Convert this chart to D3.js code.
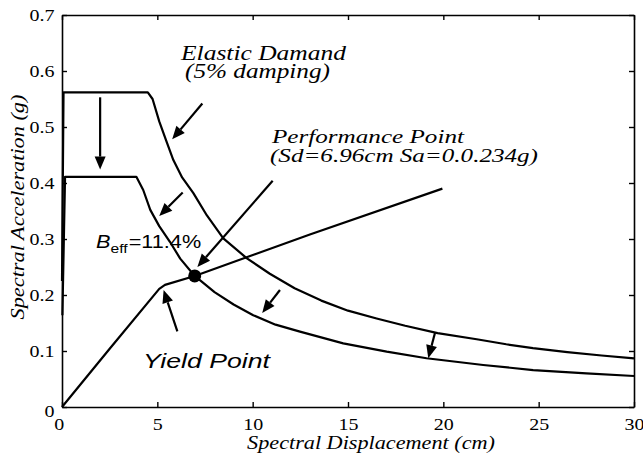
<!DOCTYPE html>
<html>
<head>
<meta charset="utf-8">
<script src="https://cdn.jsdelivr.net/npm/d3@7"></script>
<style>
  html, body { margin: 0; padding: 0; background: #fff; }
  svg { display: block; }
</style>
</head>
<body>
<svg id="chart" width="643" height="455"></svg>
<script>
// Elastic demand spectrum (5% damping), ADRS format: Sd in cm, Sa in g
const elasticSd = [0.0, 0.08, 4.5, 4.75, 5.1, 5.45, 5.84, 6.3, 6.89, 7.6, 8.46, 9.68, 10.9, 12.2, 13.6, 15.0, 16.5, 18.0, 19.7, 21.75, 23.3, 24.7, 26.5, 28.3, 30];
const elasticSa = [0.225, 0.562, 0.562, 0.550, 0.510, 0.477, 0.441, 0.410, 0.382, 0.342, 0.301, 0.266, 0.238, 0.212, 0.190, 0.172, 0.158, 0.145, 0.132, 0.121, 0.112, 0.105, 0.098, 0.092, 0.087];

// Reduced demand spectrum (effective damping 11.4%)
const reducedSd = [0.02, 0.16, 3.9, 4.26, 4.63, 5.1, 5.66, 6.2, 6.96, 8.0, 9.0, 10.03, 11.2, 12.48, 14.75, 17.03, 19.12, 22.09, 24.71, 27.5, 30];
const reducedSa = [0.164, 0.411, 0.411, 0.3875, 0.352, 0.323, 0.295, 0.265, 0.234, 0.205, 0.183, 0.164, 0.147, 0.1345, 0.1137, 0.0988, 0.087, 0.075, 0.066, 0.060, 0.0554];

// Capacity spectrum
const capacitySd = [0, 2.5, 5.1, 5.4, 6.96, 13.0, 19.95];
const capacitySa = [0, 0.104, 0.211, 0.218, 0.234, 0.308, 0.390];

// Performance point
const perfSd = 6.96;
const perfSa = 0.234;

// Annotation arrows: tail -> tip, in data units
const arrowTailSd = [2.0, 7.36, 6.33, 11.05, 6.05, 11.43, 19.56];
const arrowTailSa = [0.553, 0.542, 0.383, 0.404, 0.135, 0.209, 0.132];
const arrowTipSd  = [2.0, 5.78, 5.10, 7.10, 5.33, 10.50, 19.21];
const arrowTipSa  = [0.424, 0.478, 0.341, 0.250, 0.209, 0.168, 0.087];

// Axis ticks
const xTicks = [0, 5, 10, 15, 20, 25, 30];
const yTicks = [0, 0.1, 0.2, 0.3, 0.4, 0.5, 0.6, 0.7];
const xTickLabels = ["0", "5", "10", "15", "20", "25", "30"];
const yTickLabels = ["0", "0.1", "0.2", "0.3", "0.4", "0.5", "0.6", "0.7"];

const svg = d3.select("#chart");
const plotLeft = 62, plotRight = 634, plotTop = 15, plotBottom = 407;

const x = d3.scaleLinear().domain([0, 30]).range([plotLeft, plotRight]);
const y = d3.scaleLinear().domain([0, 0.7]).range([plotBottom, plotTop]);

const SERIF = "Liberation Serif, Times New Roman, Times, serif";
const SANS = "Liberation Sans, Arial, Helvetica, sans-serif";

// Axes with inward ticks on all four sides
const gx = svg.append("g").attr("transform", `translate(0,${plotBottom})`)
  .call(d3.axisBottom(x).tickValues(xTicks).tickFormat((d, i) => xTickLabels[i]).tickSizeInner(-5).tickSizeOuter(0).tickPadding(12));
const gy = svg.append("g").attr("transform", `translate(${plotLeft},0)`)
  .call(d3.axisLeft(y).tickValues(yTicks).tickFormat((d, i) => yTickLabels[i]).tickSizeInner(-5).tickSizeOuter(0).tickPadding(6));
const gxt = svg.append("g").attr("transform", `translate(0,${plotTop})`)
  .call(d3.axisTop(x).tickValues(xTicks).tickFormat("").tickSizeInner(-5).tickSizeOuter(0));
const gyr = svg.append("g").attr("transform", `translate(${plotRight},0)`)
  .call(d3.axisRight(y).tickValues(yTicks).tickFormat("").tickSizeInner(-5).tickSizeOuter(0));

[gx, gy, gxt, gyr].forEach(g => {
  g.attr("font-family", SERIF).attr("font-size", 16);
  g.selectAll(".domain").attr("stroke", "#000").attr("stroke-width", 1.6);
  g.selectAll(".tick line").attr("stroke", "#000").attr("stroke-width", 1.4);
});
// slightly wide tick numerals
[gx, gy].forEach(g => {
  g.selectAll("text").attr("font-family", SERIF).attr("font-size", 16).attr("fill", "#000")
    .attr("transform", "scale(1.25,1)");
});
gx.selectAll("text").filter((d) => d === 0).attr("dx", "-2.5");
gy.selectAll("text").filter((d) => d === 0).attr("dy", "0.6em");

// Curves
const line = d3.line().x(d => x(d[0])).y(d => y(d[1]));
const curves = [
  d3.zip(elasticSd, elasticSa),
  d3.zip(reducedSd, reducedSa),
  d3.zip(capacitySd, capacitySa)
];
svg.append("g").selectAll("path").data(curves).join("path")
  .attr("d", line)
  .attr("fill", "none")
  .attr("stroke", "#000")
  .attr("stroke-width", 2.2)
  .attr("stroke-linejoin", "round");

// Arrows
const headLen = 13, headW = 11;
const arrows = d3.range(arrowTailSd.length).map(i => ({
  x1: x(arrowTailSd[i]), y1: y(arrowTailSa[i]),
  x2: x(arrowTipSd[i]), y2: y(arrowTipSa[i])
}));
const ag = svg.append("g");
arrows.forEach(a => {
  const ang = Math.atan2(a.y2 - a.y1, a.x2 - a.x1);
  const bx = a.x2 - headLen * Math.cos(ang), by = a.y2 - headLen * Math.sin(ang);
  ag.append("line").attr("x1", a.x1).attr("y1", a.y1).attr("x2", bx).attr("y2", by)
    .attr("stroke", "#000").attr("stroke-width", 2.2);
  const px = -Math.sin(ang) * headW / 2, py = Math.cos(ang) * headW / 2;
  ag.append("polygon")
    .attr("points", `${a.x2},${a.y2} ${bx + px},${by + py} ${bx - px},${by - py}`)
    .attr("fill", "#000");
});

// Performance point marker
svg.append("circle").attr("cx", x(perfSd)).attr("cy", y(perfSa)).attr("r", 6.5).attr("fill", "#000");

// Text placed at (px, py) and scaled horizontally so that it spans `width` pixels
function label(fam, px, py, txt, size, width, italic = true, anchor = "start", rotate = 0) {
  const g = svg.append("g");
  const t = g.append("text").attr("x", 0).attr("y", 0).text(txt)
    .attr("font-family", fam).attr("font-size", size).attr("fill", "#000")
    .attr("text-anchor", anchor)
    .attr("font-style", italic ? "italic" : "normal");
  const sx = width / t.node().getComputedTextLength();
  g.attr("transform", `translate(${px},${py}) rotate(${rotate}) scale(${sx},1)`);
  return t;
}
label(SERIF, 181, 60, "Elastic Damand", 20, 165);
label(SERIF, 185, 78, "(5% damping)", 20, 145);
label(SERIF, 272, 143, "Performance Point", 18, 192);
label(SERIF, 270, 162, "(Sd=6.96cm Sa=0.0.234g)", 18, 268);
label(SANS, 143, 368, "Yield Point", 21, 127);

// B_eff label
const beffG = svg.append("g");
const beff = beffG.append("text").attr("x", 0).attr("y", 0)
  .attr("font-family", SANS).attr("font-size", 18).attr("fill", "#000");
beff.append("tspan").text("B").attr("font-style", "italic");
beff.append("tspan").text("eff").attr("dy", 5).attr("font-size", 13);
beff.append("tspan").text("=11.4%").attr("dy", -5).attr("dx", 1);
beffG.attr("transform", `translate(96,248) scale(${104 / beff.node().getComputedTextLength()},1)`);

// Axis titles
label(SERIF, 371, 449, "Spectral Displacement (cm)", 19, 248, true, "middle");
label(SERIF, 24, 207, "Spectral Acceleration (g)", 19, 225, true, "middle", -90);
</script>
</body>
</html>
